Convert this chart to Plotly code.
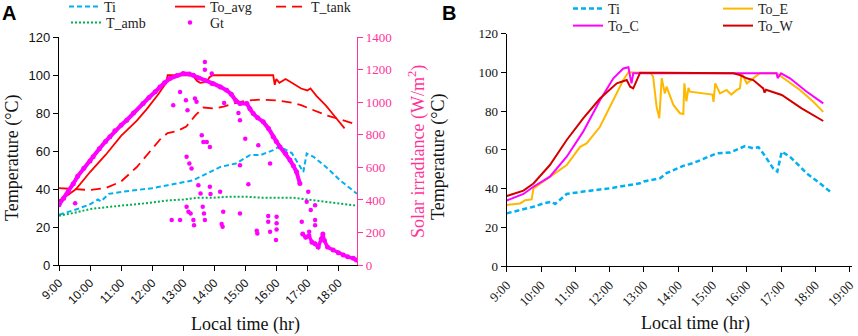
import plotly.graph_objects as go

# ---------------- Panel A data ----------------
ti_a_hr = [9.0, 9.5, 10.0, 10.25, 10.35, 10.6, 11.0, 11.5, 12.0, 12.5, 13.0, 13.33, 13.76, 14.2, 14.7,
           15.15, 15.5, 15.9, 16.1, 16.5, 16.76, 16.87, 16.98, 17.2, 17.6, 18.05, 18.6]
ti_a = [26.5, 29, 32, 34.5, 33.5, 37.5, 38.5, 39.5, 40.5, 42, 43.5, 44.7, 48.2, 51.7, 53.5,
        57.9, 58, 60.5, 62.5, 59, 52, 49, 58.8, 57, 51.7, 44.7, 37.5]

toavg_hr = [9.0, 9.3, 9.55, 9.8, 10.0, 10.5, 10.75, 11.0, 11.5, 11.82, 12.2, 12.45, 12.5, 13.0, 13.3,
            13.45, 13.55, 13.75, 13.85, 13.95, 14.5, 15.0, 15.5, 15.9, 15.95, 16.0, 16.1, 16.3, 16.5,
            16.8, 17.0, 17.1, 17.3, 17.6, 17.9, 18.2]
toavg = [34, 37, 40, 45, 49, 58, 63, 68, 76, 82, 90, 96, 100, 100, 100,
         97, 96, 96.5, 99, 100, 100, 100, 100, 100, 95, 98, 96, 98, 96,
         93, 92, 93, 89, 84, 78, 72]

ttank_hr = [9.0, 9.5, 10.0, 10.5, 11.0, 11.5, 12.0, 12.3, 12.5, 12.8, 13.1, 13.4, 13.65, 14.0, 14.3,
            14.6, 15.0, 15.5, 16.0, 16.5, 16.8, 17.2, 17.6, 18.0, 18.6]
ttank = [40.5, 40, 39.5, 40.5, 44, 51.5, 61.5, 67, 69.5, 70.5, 73, 79, 83, 82.5, 83.5,
         85, 86.5, 87.2, 86.8, 85.5, 84.2, 81.6, 79, 77, 74]

tamb_hr = [9.0, 9.5, 10.0, 10.5, 11.0, 11.5, 12.0, 12.5, 13.0, 13.5, 14.0, 14.5, 15.0, 15.5, 16.0,
           16.5, 17.0, 17.5, 18.0, 18.6]
tamb = [26, 27.5, 29.5, 30.5, 31.3, 32, 33, 34, 34.5, 35.5, 35.5, 36, 36, 35.5, 35.5,
        35.5, 34.5, 33.5, 32.5, 31.3]

gt_hr = [9.0, 9.15, 9.3, 9.46, 9.6, 9.8, 10.0, 10.1, 10.3, 10.5, 10.64, 10.8, 11.0, 11.18, 11.4,
         11.71, 11.9, 12.1, 12.25, 12.4, 12.57, 12.8, 13.0, 13.2, 13.33, 13.5, 13.7, 13.97, 14.2, 14.4,
         14.55, 14.7, 14.83, 15.05, 15.15, 15.26, 15.4, 15.58, 15.75, 15.9, 16.0, 16.12, 16.3, 16.44,
         16.55, 16.65, 16.76]
gt = [370, 410, 450, 500, 545, 595, 640, 665, 715, 760, 788, 825, 860, 890, 935,
      993, 1030, 1065, 1095, 1120, 1146, 1165, 1177, 1175, 1166, 1150, 1135, 1115, 1095, 1074,
      1050, 1010, 993, 993, 960, 931, 905, 880, 840, 788, 760, 726, 685, 645,
      610, 573, 501]

gt_late_hr = [16.85, 16.95, 17.05, 17.15, 17.25, 17.35, 17.45, 17.5, 17.55, 17.65, 17.83, 18.0, 18.16,
              18.3, 18.48, 18.58]
gt_late = [190, 170, 180, 140, 130, 110, 160, 190, 150, 110, 92, 75, 61, 50, 41, 30]

gt_pts_hr = [9.52, 12.68, 12.63, 12.9, 12.9, 13.09, 13.14, 13.11, 13.2, 13.27,
             13.11, 13.17, 13.24, 13.33, 13.35, 13.38, 13.43, 13.49, 13.56, 13.6,
             13.65, 13.76, 13.86, 13.63, 13.67, 13.7, 13.7, 13.7, 13.86, 13.88,
             13.92, 13.92, 14.19, 14.29, 14.24, 14.27, 14.32, 14.78, 14.83, 15.0,
             14.83, 14.83, 15.1, 15.37, 15.39, 15.42, 15.74, 15.74, 15.8, 15.8,
             16.01, 16.01, 16.01, 15.99, 16.82, 16.98, 17.03, 17.11, 17.25, 17.25,
             17.25, 17.06]
gt_pts = [379, 982, 276, 276, 1064, 1013, 951, 665, 624, 593,
          358, 327, 317, 276, 245, 1023, 1003, 491, 440, 798,
          757, 757, 726, 358, 317, 276, 1201, 1248, 481, 436,
          1177, 1115, 450, 327, 252, 235, 996, 935, 890, 777,
          614, 317, 497, 211, 194, 736, 301, 266, 205, 624,
          297, 256, 219, 153, 266, 389, 450, 338, 368, 276,
          245, 205]

tick_hr_a = [9, 10, 11, 12, 13, 14, 15, 16, 17, 18]
tick_lbl_a = ["9:00", "10:00", "11:00", "12:00", "13:00", "14:00", "15:00", "16:00", "17:00", "18:00"]

# ---------------- Panel B data ----------------
ti_b_hr = [9.0, 9.78, 10.07, 10.31, 10.41, 10.75, 11.23, 12.01, 12.89, 13.0, 13.47, 13.66, 14.15, 14.44,
           15.12, 15.51, 15.8, 15.95, 16.19, 16.34, 16.48, 16.77, 16.89, 17.02, 17.26, 17.75, 18.13, 18.47]
ti_b = [27.3, 30.7, 32.4, 33.3, 32.1, 37.3, 38.5, 40.2, 42.8, 43.7, 45.4, 48, 51.8, 53.2,
        58.2, 58.6, 60.8, 62, 60.8, 61.4, 58.2, 50.5, 48.8, 59.1, 56.5, 47.9, 42.8, 37.9]

toe_hr = [9.0, 9.39, 9.54, 9.73, 9.78, 10.26, 10.75, 11.14, 11.33, 11.72, 12.11, 12.4, 12.55, 13.0, 13.2,
          13.27, 13.37, 13.45, 13.52, 13.61, 13.66, 13.86, 14.05, 14.15, 14.18, 14.24, 14.3, 14.34, 14.7,
          15.0, 15.03, 15.08, 15.22, 15.41, 15.55, 15.71, 15.8, 15.85, 16.0, 16.2, 16.38, 16.87, 17.16,
          17.55, 17.94, 18.23]
toe = [31.6, 32.4, 34.1, 34.5, 40.2, 46.2, 52.2, 61.6, 63.3, 71.9, 85.6, 96, 100, 99.5, 99.5,
       97.7, 82.3, 76.3, 97, 89.1, 92.6, 83.2, 78.9, 78.5, 94.3, 85, 92, 90, 89,
       88.5, 84.8, 94.3, 89.1, 90.9, 88.5, 90.9, 91.7, 99.5, 94.3, 97, 99.5, 99.5, 96,
       90.9, 84.8, 79.6]

toc_hr = [9.0, 9.49, 9.78, 10.26, 10.75, 11.23, 11.72, 12.11, 12.4, 12.55, 12.6, 12.64, 12.69, 13.5,
          14.5, 15.5, 16.5, 16.87, 16.9, 17.0, 17.26, 17.75, 18.23]
toc = [33.9, 37.3, 41, 46.2, 56.5, 69.4, 85.6, 96.9, 102, 102.6, 97.7, 94.3, 99.5, 99.5,
       99.5, 99.5, 99.5, 99.5, 97, 99.5, 96.9, 90, 84]

tow_hr = [9.0, 9.49, 9.78, 10.26, 10.75, 11.23, 11.72, 12.21, 12.5, 12.6, 12.69, 12.79, 12.89, 13.5,
          14.5, 15.0, 15.61, 15.8, 16.0, 16.19, 16.48, 16.52, 16.56, 17.02, 17.6, 18.23]
tow = [36.2, 39, 42.7, 52.2, 65.1, 76.3, 86.5, 94.3, 96, 92.6, 91.7, 96, 99.8, 99.8,
       99.8, 99.8, 99.5, 98.6, 96.9, 96, 91.7, 89.5, 91, 88.3, 81.4, 74.9]

tick_hr_b = [9, 10, 11, 12, 13, 14, 15, 16, 17, 18, 19]
tick_lbl_b = ["9:00", "10:00", "11:00", "12:00", "13:00", "14:00", "15:00", "16:00", "17:00", "18:00", "19:00"]

temp_ticks = [0, 20, 40, 60, 80, 100, 120]
gt_ticks = [0, 200, 400, 600, 800, 1000, 1200, 1400]

# ---------------- styling ----------------
W, H = 858, 336
SERIF = "Liberation Serif"
SANS = "Liberation Sans"
PINK_AX = "#FF3399"
BLUE = "#00B0F0"
RED = "#FF0000"
GREEN = "#00B050"
MAG = "#FF00FF"
ORANGE = "#FFB800"
DRED = "#D40000"


def px(x):
    return x / W


def py(y):
    return 1 - y / H


fig = go.Figure()

# Panel A traces
fig.add_trace(go.Scatter(x=ti_a_hr, y=ti_a, name="Ti", mode="lines",
                         line=dict(color=BLUE, width=2, dash="5px,3px"),
                         xaxis="x", yaxis="y", legend="legend"))
fig.add_trace(go.Scatter(x=toavg_hr, y=toavg, name="To_avg", mode="lines",
                         line=dict(color=RED, width=1.8),
                         xaxis="x", yaxis="y", legend="legend2"))
fig.add_trace(go.Scatter(x=ttank_hr, y=ttank, name="T_tank", mode="lines",
                         line=dict(color=RED, width=1.8, dash="10px,6px"),
                         xaxis="x", yaxis="y", legend="legend3"))
fig.add_trace(go.Scatter(x=tamb_hr, y=tamb, name="T_amb", mode="lines",
                         line=dict(color=GREEN, width=2, dash="2px,2px"),
                         xaxis="x", yaxis="y", legend="legend4"))
fig.add_trace(go.Scatter(x=gt_pts_hr, y=gt_pts, name="Gt", mode="markers",
                         marker=dict(color=MAG, size=4.5),
                         xaxis="x", yaxis="y2", legend="legend5"))
fig.add_trace(go.Scatter(x=gt_hr, y=gt, name="Gt", mode="lines+markers", showlegend=False,
                         line=dict(color=MAG, width=4), marker=dict(color=MAG, size=5),
                         xaxis="x", yaxis="y2"))
fig.add_trace(go.Scatter(x=gt_late_hr, y=gt_late, name="Gt", mode="lines+markers", showlegend=False,
                         line=dict(color=MAG, width=3.5), marker=dict(color=MAG, size=5),
                         xaxis="x", yaxis="y2"))

# Panel B traces
fig.add_trace(go.Scatter(x=ti_b_hr, y=ti_b, name="Ti", mode="lines",
                         line=dict(color=BLUE, width=2.5, dash="5px,3px"),
                         xaxis="x2", yaxis="y3", legend="legend6"))
fig.add_trace(go.Scatter(x=toe_hr, y=toe, name="To_E", mode="lines",
                         line=dict(color=ORANGE, width=2),
                         xaxis="x2", yaxis="y3", legend="legend7"))
fig.add_trace(go.Scatter(x=toc_hr, y=toc, name="To_C", mode="lines",
                         line=dict(color=MAG, width=2),
                         xaxis="x2", yaxis="y3", legend="legend8"))
fig.add_trace(go.Scatter(x=tow_hr, y=tow, name="To_W", mode="lines",
                         line=dict(color=DRED, width=2),
                         xaxis="x2", yaxis="y3", legend="legend9"))

axis_common = dict(showgrid=False, zeroline=False, showline=True, linewidth=1.2, automargin=False,
                   ticks="outside", ticklen=5, tickwidth=1.2, fixedrange=True)

leg_common = dict(orientation="v", xanchor="left", yanchor="middle", bgcolor="rgba(0,0,0,0)",
                  borderwidth=0, font=dict(family=SERIF, size=14, color="#222"))


def leg(xp, yp):
    d = dict(x=px(xp), y=py(yp))
    d.update(leg_common)
    return d


fig.update_layout(
    width=W, height=H, margin=dict(l=0, r=0, t=0, b=0, autoexpand=False),
    paper_bgcolor="white", plot_bgcolor="white",
    xaxis=dict(domain=[px(59), px(357)], range=[9, 18.6], anchor="y",
               tickvals=tick_hr_a, ticktext=tick_lbl_a, tickangle=-45,
               tickfont=dict(family=SANS, size=12, color="#111"),
               linecolor="black", tickcolor="black", **axis_common),
    yaxis=dict(domain=[py(265), py(37.3)], range=[0, 120], anchor="x",
               tickvals=temp_ticks, tickfont=dict(family=SANS, size=13, color="#111"),
               linecolor="black", tickcolor="black", **axis_common),
    yaxis2=dict(domain=[py(265), py(37.3)], range=[0, 1400], anchor="x", overlaying="y", side="right",
                tickvals=gt_ticks, tickfont=dict(family=SERIF, size=13, color=PINK_AX),
                linecolor=PINK_AX, tickcolor=PINK_AX, **axis_common),
    xaxis2=dict(domain=[px(506.7), px(852.4)], range=[9, 19.08], anchor="y3",
                tickvals=tick_hr_b, ticktext=tick_lbl_b, tickangle=-45,
                tickfont=dict(family=SERIF, size=13, color="#111"),
                linecolor="black", tickcolor="black", **axis_common),
    yaxis3=dict(domain=[py(266.3), py(33.5)], range=[0, 120], anchor="x2",
                tickvals=temp_ticks, tickfont=dict(family=SERIF, size=13, color="#111"),
                linecolor="black", tickcolor="black", **axis_common),
    legend=leg(64, 7),
    legend2=leg(170, 7),
    legend3=leg(271, 7),
    legend4=leg(66, 23),
    legend5=leg(170, 23),
    legend6=leg(568, 9),
    legend7=leg(718, 9),
    legend8=leg(568, 26),
    legend9=leg(718, 26),
)

title_font = dict(family=SERIF, size=18, color="#111")
annots = [
    dict(text="<b>A</b>", x=px(9), y=py(13), font=dict(family=SANS, size=20, color="black")),
    dict(text="<b>B</b>", x=px(449), y=py(13), font=dict(family=SANS, size=20, color="black")),
    dict(text="Temperature (°C)", x=px(12), y=py(158), textangle=-90, font=title_font),
    dict(text="Solar irradiance (W/m<sup>2</sup>)", x=px(417), y=py(152), textangle=-90,
         font=dict(family=SERIF, size=18, color=PINK_AX)),
    dict(text="Temperature (°C)", x=px(438), y=py(157), textangle=-90, font=title_font),
    dict(text="Local time (hr)", x=px(245), y=py(324), font=title_font),
    dict(text="Local time (hr)", x=px(695), y=py(323), font=title_font),
]
for a in annots:
    a.update(xref="paper", yref="paper", showarrow=False, xanchor="center", yanchor="middle")
fig.update_layout(annotations=annots)

fig.write_html("out.html",
               config={"displayModeBar": False},
               post_script="document.body.style.margin='0';document.body.style.padding='0';"
                           "document.body.style.overflow='hidden';")
